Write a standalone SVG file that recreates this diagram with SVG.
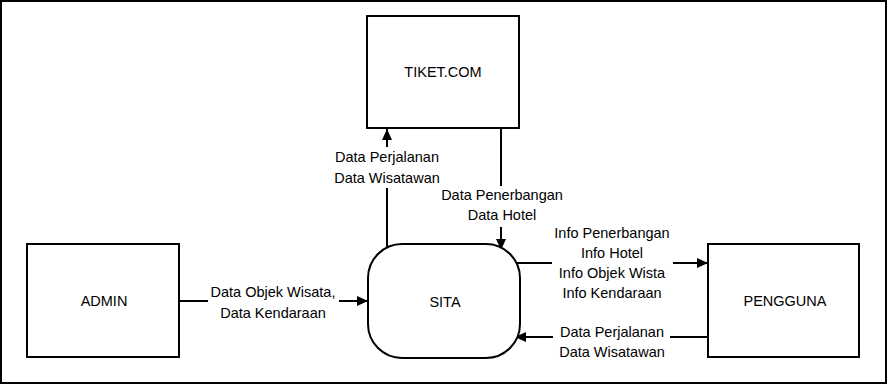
<svg xmlns="http://www.w3.org/2000/svg" width="888" height="384" viewBox="0 0 888 384">
  <defs>
    <marker id="arrow" markerUnits="userSpaceOnUse" markerWidth="12" markerHeight="12" viewBox="0 0 12 12" refX="11" refY="6" orient="auto">
      <path d="M0,1 L11,6 L0,11 Z" fill="#000"/>
    </marker>
    <style>
      .box { fill: #fff; stroke: #000; stroke-width: 2; }
      .frame { fill: #fff; stroke: #000; stroke-width: 2; }
      .flow { fill: none; stroke: #000; stroke-width: 2; }
      .lbl { font-family: "Liberation Sans", Arial, sans-serif; font-size: 14.5px; fill: #000; text-anchor: middle; }
    </style>
  </defs>

  <!-- outer frame -->
  <rect class="frame" x="1" y="1" width="885" height="382"/>

  <!-- data flows -->
  <g id="connectors">
    <!-- ADMIN to SITA -->
    <line class="flow" x1="179" y1="301" x2="208" y2="301"/>
    <line class="flow" x1="339" y1="301" x2="368" y2="301" marker-end="url(#arrow)"/>
    <!-- SITA to TIKET.COM -->
    <line class="flow" x1="387" y1="248" x2="387" y2="188"/>
    <line class="flow" x1="387" y1="147" x2="387" y2="129" marker-end="url(#arrow)"/>
    <!-- TIKET.COM to SITA -->
    <line class="flow" x1="501" y1="128" x2="501" y2="186"/>
    <line class="flow" x1="501" y1="227" x2="501" y2="250" marker-end="url(#arrow)"/>
    <!-- SITA to PENGGUNA -->
    <line class="flow" x1="517" y1="263" x2="552" y2="263"/>
    <line class="flow" x1="673" y1="263" x2="708" y2="263" marker-end="url(#arrow)"/>
    <!-- PENGGUNA to SITA -->
    <line class="flow" x1="708" y1="337" x2="670" y2="337"/>
    <line class="flow" x1="553" y1="337" x2="515" y2="337" marker-end="url(#arrow)"/>

    <text class="lbl" x="273" y="297">Data Objek Wisata,</text>
    <text class="lbl" x="273" y="318">Data Kendaraan</text>

    <text class="lbl" x="387" y="162">Data Perjalanan</text>
    <text class="lbl" x="387" y="183">Data Wisatawan</text>

    <text class="lbl" x="502" y="200">Data Penerbangan</text>
    <text class="lbl" x="502" y="220">Data Hotel</text>

    <text class="lbl" x="612" y="238">Info Penerbangan</text>
    <text class="lbl" x="612" y="258">Info Hotel</text>
    <text class="lbl" x="612" y="278">Info Objek Wista</text>
    <text class="lbl" x="612" y="298">Info Kendaraan</text>

    <text class="lbl" x="612" y="337">Data Perjalanan</text>
    <text class="lbl" x="612" y="357">Data Wisatawan</text>
  </g>

  <g id="tiket">
    <rect class="box" x="367" y="16" width="152" height="112"/>
    <text class="lbl" x="443" y="77">TIKET.COM</text>
  </g>

  <g id="admin">
    <rect class="box" x="27" y="244" width="152" height="113"/>
    <text class="lbl" x="104" y="306">ADMIN</text>
  </g>

  <g id="sita">
    <rect class="box" x="368" y="244" width="152" height="114" rx="34" ry="34"/>
    <text class="lbl" x="445" y="307">SITA</text>
  </g>

  <g id="pengguna">
    <rect class="box" x="708" y="244" width="151" height="113"/>
    <text class="lbl" x="785" y="306">PENGGUNA</text>
  </g>
</svg>
